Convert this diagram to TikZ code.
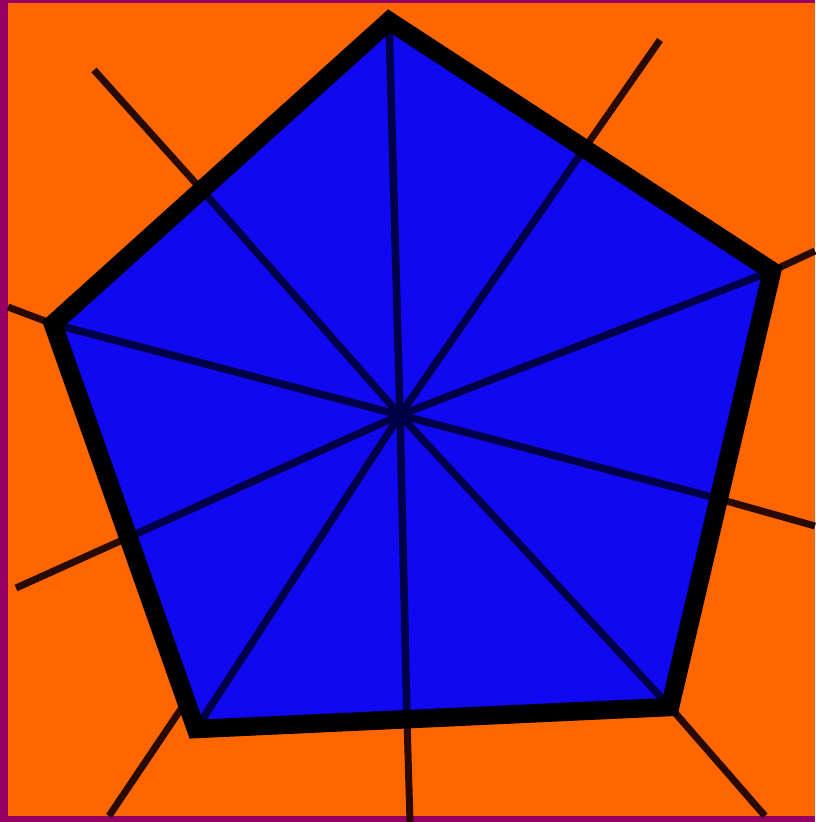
\documentclass[tikz,border=0pt]{standalone}
\usetikzlibrary{calc}
\definecolor{bgorange}{RGB}{255,102,0}
\definecolor{penblue}{RGB}{16,8,240}
\definecolor{spoke}{RGB}{0,0,70}
\definecolor{ray}{RGB}{40,10,0}
\definecolor{frame}{RGB}{150,0,100}

\begin{document}
\begin{tikzpicture}[x=1pt, y=-1pt,
  spokeline/.style={line width=7.5pt, spoke},
  rayline/.style={line width=7pt, ray},
  rimline/.style={line width=18.5pt, black, line join=miter}]
\useasboundingbox (0,0) rectangle (815,822);
\fill[frame] (0,0) rectangle (815,822);
\fill[bgorange] (8,3) rectangle (815,816);
% pentagon corners and centre
\coordinate (top) at (389,21);
\coordinate (rgt) at (772,271);
\coordinate (brt) at (670,707);
\coordinate (blf) at (196,729);
\coordinate (lft) at (53,324);
\coordinate (mid) at (400,415);
% where the spokes meet the sides
\coordinate (eul) at (200,188);
\coordinate (eur) at (582,152);
\coordinate (erg) at (712,497);
\coordinate (ebt) at (407,720);
\coordinate (elf) at (127,538);
% free ends outside
\coordinate (xul) at (94,70);
\coordinate (xur) at (660,40);
\coordinate (xrg) at (815,526);
\coordinate (xbt) at (410,822);
\coordinate (xlf) at (16,588);
\coordinate (xrgt) at (815,251);
\coordinate (xbrt) at (765,816);
\coordinate (xblf) at (109,816);
\coordinate (nblf) at (183,706);
\coordinate (xlft) at (8,307);
\foreach \a/\b in {xul/eul, xur/eur, xrg/erg, xbt/ebt, xlf/elf,
  xrgt/rgt, xbrt/brt, xblf/nblf, xlft/lft}
  \draw[rayline] (\a) -- (\b);
\fill[penblue] (top) -- (rgt) -- (brt) -- (blf) -- (lft) -- cycle;
\foreach \p in {top, rgt, brt, blf, lft, eul, eur, erg, ebt, elf}
  \draw[spokeline] (mid) -- (\p);
\draw[rimline] (top) -- (rgt) -- (brt) -- (blf) -- (lft) -- cycle;
\end{tikzpicture}
\end{document}
